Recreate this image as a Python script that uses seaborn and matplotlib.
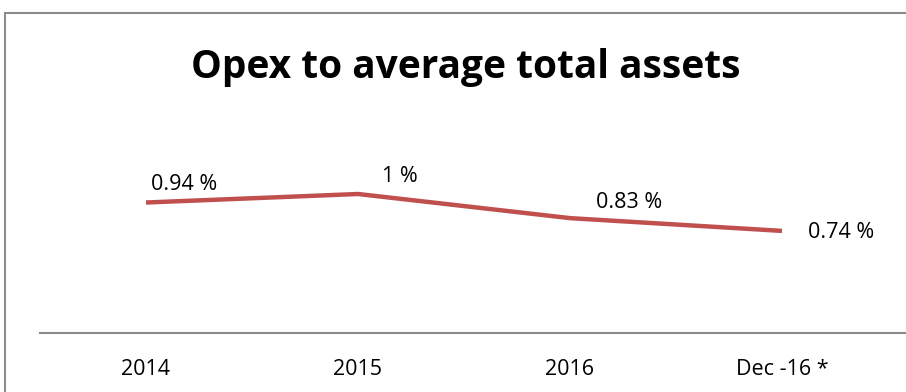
import matplotlib
matplotlib.use("Agg")
import matplotlib.pyplot as plt
import seaborn as sns
import pandas as pd
from matplotlib.patches import Rectangle

categories = ["2014", "2015", "2016", "Dec -16 *"]
values = [0.94, 1.00, 0.83, 0.74]
labels = ["0.94 %", "1 %", "0.83 %", "0.74 %"]

sns.set_theme(style="white")
plt.rcParams['font.family'] = ['Open Sans', 'DejaVu Sans']

W, H = 906, 392
fig = plt.figure(figsize=(W / 100, H / 100), dpi=100)
# axes in pixel coords: left 40, right 906, bottom 333 (from top), top 165.6
bot, top = 333, 165.6
ax = fig.add_axes([40 / W, (H - bot) / H, (906 - 40) / W, (bot - top) / H])

df = pd.DataFrame({"cat": categories, "val": values})
df["x"] = range(len(df))
sns.lineplot(data=df, x="x", y="val", ax=ax, color="#C0504D", linewidth=3.2,
             solid_capstyle="butt", legend=False)

ax.set_xlim(-0.5, (906 - 146) / 212)
ax.set_ylim(0.021, 1.2)
ax.set_xticks(range(len(categories)))
ax.set_xticklabels(categories, fontsize=15.5, color="black")
ax.tick_params(axis="x", length=0, pad=19)
ax.set_yticks([])
ax.set_xlabel("")
ax.set_ylabel("")
for s in ["top", "right", "left"]:
    ax.spines[s].set_visible(False)
ax.spines["bottom"].set_color("#8c8c8c")
ax.spines["bottom"].set_linewidth(1.5)
ax.patch.set_alpha(0)

offsets = [(38, 18), (42, 17), (59, 16), (59, -2)]
for i, (v, lab) in enumerate(zip(values, labels)):
    ax.annotate(lab, (i, v), xytext=offsets[i], textcoords="offset pixels",
                ha="center", va="center", fontsize=15.5, color="black")

fig.text(466 / W, 1 - 78 / H, "Opex to average total assets", ha="center",
         va="baseline", fontsize=28, fontweight="bold", color="black")

fig.patches.append(Rectangle((5 / W, -0.1), 1.2, (H - 13) / H + 0.1,
                             transform=fig.transFigure, fill=False,
                             edgecolor="#8c8c8c", linewidth=1.5))

fig.savefig("out.png", dpi=100)
